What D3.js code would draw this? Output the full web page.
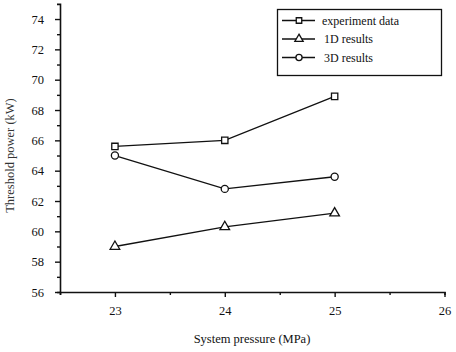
<!DOCTYPE html>
<html lang="en">
<head>
    <meta charset="UTF-8">
    <title>Threshold power vs system pressure</title>
    <script src="https://d3js.org/d3.v7.min.js"></script>
    <style>
        body { margin: 0; background: #fff; }
    </style>
</head>
<body>
    <svg id="chart" width="456" height="352"></svg>

    <script>
        // data
        const pressure = [23, 24, 25];
        const experimentData = [65.6, 66.0, 68.9];
        const results1D = [59.0, 60.3, 61.2];
        const results3D = [65.0, 62.8, 63.6];
        const seriesNames = ["experiment data", "1D results", "3D results"];
        const xTicks = [23, 24, 25, 26];
        const yTicks = [56, 58, 60, 62, 64, 66, 68, 70, 72, 74];

        const font = "'Liberation Serif', 'DejaVu Serif', serif";
        const ink = "#111";

        const svg = d3.select("#chart");

        const x = d3.scaleLinear().domain([22.5, 26]).range([60, 444.5]);
        const y = d3.scaleLinear().domain([56, 75]).range([292, 292 - 30.33 * 9.5]);

        // x axis
        const xAxis = svg.append("g").attr("transform", `translate(0,${y(56)})`);
        xAxis.call(d3.axisBottom(x).tickValues(xTicks).tickFormat(d3.format("d")).tickSize(5).tickPadding(9));
        xAxis.append("g").call(d3.axisBottom(x).tickValues([22.5, 23.5, 24.5, 25.5]).tickFormat("").tickSize(3));

        // y axis
        const yAxis = svg.append("g").attr("transform", `translate(${x(22.5)},0)`);
        yAxis.call(d3.axisLeft(y).tickValues(yTicks).tickSize(5).tickPadding(11));
        yAxis.append("g").call(d3.axisLeft(y).tickValues(d3.range(57, 75, 2)).tickFormat("").tickSize(3));

        [xAxis, yAxis].forEach(a => {
            a.attr("font-family", font).attr("font-size", 12.5);
            a.selectAll("text").attr("fill", ink);
            a.select("g .domain").remove();
        });
        svg.selectAll(".domain").attr("stroke", ink).attr("stroke-width", 1.6);
        svg.selectAll(".tick line").attr("stroke", ink).attr("stroke-width", 1.4);

        // axis titles
        svg.append("text")
            .attr("x", 252).attr("y", 343)
            .attr("text-anchor", "middle")
            .attr("font-family", font)
            .attr("font-size", 12.5)
            .attr("fill", ink)
            .text("System pressure (MPa)");
        svg.append("text")
            .attr("transform", `translate(14,${y(65)}) rotate(-90)`)
            .attr("text-anchor", "middle")
            .attr("font-family", font)
            .attr("font-size", 12.5)
            .attr("fill", "#333")
            .text("Threshold power (kW)");

        const series = [
            { name: seriesNames[0], values: experimentData, symbol: d3.symbolSquare, size: 40 },
            { name: seriesNames[1], values: results1D, symbol: d3.symbolTriangle, size: 40 },
            { name: seriesNames[2], values: results3D, symbol: d3.symbolCircle, size: 40 }
        ];

        const line = d3.line().x(d => x(d[0])).y(d => y(d[1]));

        series.forEach(s => {
            const pts = pressure.map((p, i) => [p, s.values[i]]);
            svg.append("path")
                .attr("d", line(pts))
                .attr("fill", "none")
                .attr("stroke", ink)
                .attr("stroke-width", 1.3);
            svg.selectAll(null)
                .data(pts)
                .enter()
                .append("path")
                .attr("d", d3.symbol().type(s.symbol).size(s.size))
                .attr("transform", d => `translate(${x(d[0])},${y(d[1])})`)
                .attr("fill", "#fff")
                .attr("stroke", ink)
                .attr("stroke-width", 1.3);
        });

        // legend
        const legend = svg.append("g");
        legend.append("rect")
            .attr("x", 277.5).attr("y", 9.5)
            .attr("width", 164).attr("height", 66)
            .attr("fill", "#fff")
            .attr("stroke", ink)
            .attr("stroke-width", 1.3);

        series.forEach((s, i) => {
            const ly = 20.5 + i * 18.5;
            legend.append("line")
                .attr("x1", 282).attr("x2", 315)
                .attr("y1", ly).attr("y2", ly)
                .attr("stroke", ink)
                .attr("stroke-width", 1.6);
            legend.append("path")
                .attr("d", d3.symbol().type(s.symbol).size(30))
                .attr("transform", `translate(299,${ly})`)
                .attr("fill", "#fff")
                .attr("stroke", ink)
                .attr("stroke-width", 1.3);
            legend.append("text")
                .attr("x", i === 0 ? 322 : 324)
                .attr("y", ly + 4)
                .attr("font-family", font)
                .attr("font-size", 12)
                .attr("fill", ink)
                .text(s.name);
        });
    </script>
</body>
</html>
